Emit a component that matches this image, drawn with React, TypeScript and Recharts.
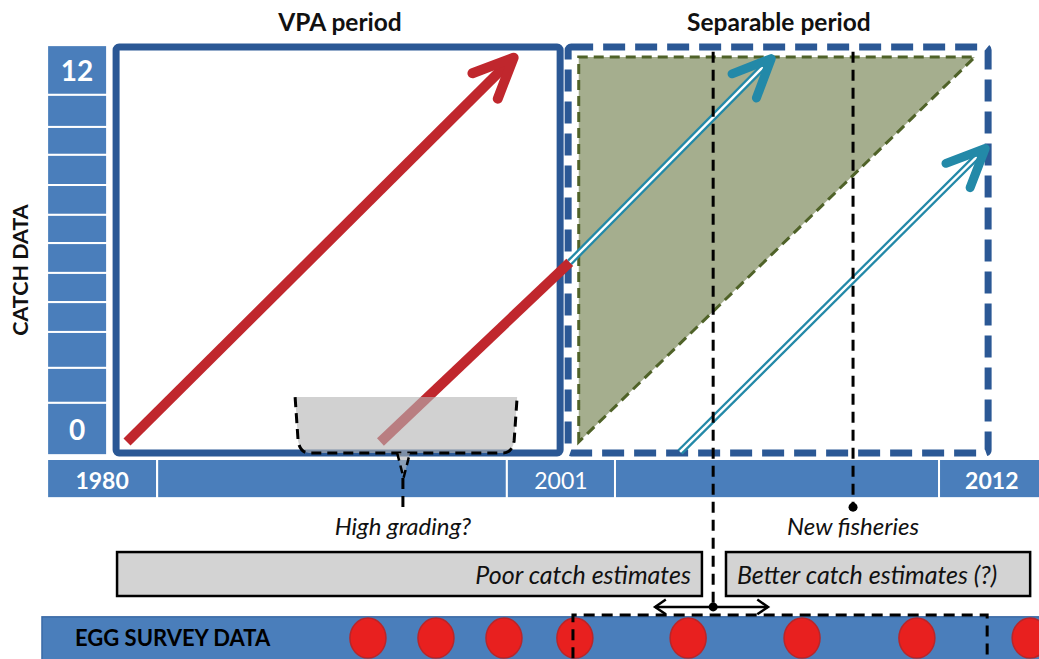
import React from 'react';
import { ComposedChart, XAxis, YAxis, ReferenceArea, ReferenceLine, ReferenceDot } from 'recharts';

// ---- chart units: t = time step (cohort ageing one step per unit), a = age ----
const periodTitles = [
  { label: 'VPA period', t: 6.64 },
  { label: 'Separable period', t: 20.32 },
];
const titleAge = 13.1;

const ageCellEdges = [12.37, 10.82, 9.82, 8.95, 8.01, 7.08, 6.2, 5.27, 4.36, 3.43, 2.31, 1.22, -0.41];
const ageCellLabels = ['12', '', '', '', '', '', '', '', '', '', '', '0'];
const ageColumn = [-2.49, -0.62];
const axisTitle = { label: 'CATCH DATA', t: -3.34, a: 5.36 };

const yearCellEdges = [-2.49, 0.94, 11.84, 15.21, 25.31, 28.6];
const yearCellLabels = ['1980', '', '2001', '', '2012'];
const yearBand = [-1.75, -0.53];

const periodBoxes = [
  { name: 'VPA', from: -0.34, to: 13.5 },
  { name: 'Separable', from: 13.75, to: 26.84 },
];
const periodAgeRange = [-0.34, 12.31];

const separableWindow = { from: 14.08, to: 26.43, ageFrom: 0, ageTo: 12 };

const redCohorts = [
  { t0: 0, a0: 0, t1: 12.05, a1: 11.98, head: true },
  { t0: 7.9, a0: 0, t1: 13.8, a1: 5.6, head: false },
];
const tealCohorts = [
  { t0: 13.8, a0: 5.6, t1: 20.08, a1: 11.95 },
  { t0: 17.24, a0: -0.31, t1: 26.75, a1: 9.15 },
];

const eventLines = [
  { t: 18.27, top: 12.16, bottom: -5.14 },
  { t: 22.63, top: 12.16, bottom: -2.03 },
];
const eventDots = [{ t: 22.63, a: -2.03 }];

const highGrading = { from: 5.24, to: 12.16, top: 1.4, bottom: -0.34 };
const highGradingPointer = { from: 8.42, to: 8.82, tip: -1.12, lineEnd: -2.1, t: 8.6 };

const notes = [
  { label: 'High grading?', t: 8.6, a: -2.6 },
  { label: 'New fisheries', t: 22.63, a: -2.6 },
];

const estimateBoxes = [
  { label: 'Poor catch estimates', from: -0.31, to: 17.92, align: 'end' },
  { label: 'Better catch estimates (?)', from: 18.67, to: 28.15, align: 'start' },
];
const estimateBand = [-4.8, -3.43];

const transition = { from: 16.46, to: 19.98, a: -5.14, mid: 18.27 };

const eggBand = { from: -2.65, to: 28.8, top: -5.45, bottom: -7.3 };
const eggTitle = { label: 'EGG SURVEY DATA', t: -1.62, a: -6.09 };
const eggSurveys = [7.51, 9.63, 11.75, 13.96, 17.49, 21.04, 24.62, 28.15];
const eggAge = -6.11;
const eggWindow = { from: 13.9, to: 26.81, top: -5.39, bottom: -7.3 };

// ---- styles ----
const FONT = 'Lato, "Open Sans", sans-serif';
const AXIS_BLUE = '#4a7ebb';
const BOX_BLUE = '#2b5895';
const RED = '#c0272d';
const TEAL = '#2389a8';
const GREEN_FILL = '#a5ae8e';
const GREEN_EDGE = '#4f6228';

function headPath(x: number, y: number, ang: number, len: number, spread: number) {
  const back = ang + Math.PI;
  const ax = x + len * Math.cos(back - spread);
  const ay = y + len * Math.sin(back - spread);
  const bx = x + len * Math.cos(back + spread);
  const by = y + len * Math.sin(back + spread);
  return `M${ax},${ay} L${x},${y} L${bx},${by}`;
}

const redArrow = (withHead: boolean) => (p: any) => {
  const { x1, y1, x2, y2 } = p;
  const ang = Math.atan2(y2 - y1, x2 - x1);
  const ex = withHead ? x2 - 6 * Math.cos(ang) : x2;
  const ey = withHead ? y2 - 6 * Math.sin(ang) : y2;
  return (
    <g>
      <line x1={x1} y1={y1} x2={ex} y2={ey} stroke={RED} strokeWidth={10} />
      {withHead && (
        <path d={headPath(x2, y2, ang, 44, 0.42)} stroke={RED} strokeWidth={10} fill="none" strokeLinecap="round" strokeLinejoin="round" />
      )}
    </g>
  );
};

const tealArrow = (p: any) => {
  const { x1, y1, x2, y2 } = p;
  const ang = Math.atan2(y2 - y1, x2 - x1);
  const ex = x2 - 8 * Math.cos(ang);
  const ey = y2 - 8 * Math.sin(ang);
  return (
    <g>
      <line x1={x1} y1={y1} x2={ex} y2={ey} stroke={TEAL} strokeWidth={7} />
      <line x1={x1} y1={y1} x2={ex - 4 * Math.cos(ang)} y2={ey - 4 * Math.sin(ang)} stroke="#fff" strokeWidth={2.4} />
      <path d={headPath(x2, y2, ang, 42, 0.42)} stroke={TEAL} strokeWidth={9} fill="none" strokeLinecap="round" strokeLinejoin="round" />
    </g>
  );
};

const doubleArrow = (p: any) => {
  const { x1, y1, x2, y2 } = p;
  const ang = Math.atan2(y2 - y1, x2 - x1);
  return (
    <g>
      <line x1={x1} y1={y1} x2={x2} y2={y2} stroke="#000" strokeWidth={2.5} />
      <path d={headPath(x2, y2, ang, 13, 0.6)} stroke="#000" strokeWidth={2.5} fill="none" />
      <path d={headPath(x1, y1, ang + Math.PI, 13, 0.6)} stroke="#000" strokeWidth={2.5} fill="none" />
    </g>
  );
};

const textDot = (label: string, opts: any) => (p: any) => (
  <text
    x={p.cx}
    y={p.cy}
    textAnchor={opts.anchor || 'middle'}
    dominantBaseline="central"
    fontFamily={FONT}
    fontSize={opts.size}
    fontWeight={opts.weight || 400}
    fontStyle={opts.italic ? 'italic' : 'normal'}
    fill={opts.fill || '#111'}
    transform={opts.rotate ? `rotate(-90 ${p.cx} ${p.cy})` : undefined}
  >
    {label}
  </text>
);

export default function App() {
  return (
    <div style={{ position: 'absolute', left: 0, top: 0, width: 1039, height: 659, background: '#fff' }}>
      <ComposedChart width={1039} height={659} margin={{ top: 57, right: 142, bottom: 217, left: 127 }}>
        <XAxis type="number" dataKey="t" domain={[0, 24]} hide allowDataOverflow />
        <YAxis type="number" dataKey="a" domain={[0, 12]} hide allowDataOverflow />

        {/* age column */}
        {ageCellLabels.map((lab, i) => (
          <ReferenceArea
            key={'age' + i}
            x1={ageColumn[0]}
            x2={ageColumn[1]}
            y1={ageCellEdges[i + 1]}
            y2={ageCellEdges[i]}
            ifOverflow="visible"
            zIndex={10}
            shape={(p: any) => (
              <g>
                <rect x={p.x} y={p.y} width={p.width} height={p.height} fill={AXIS_BLUE} stroke="#fff" strokeWidth={2} />
                {lab && (
                  <text x={p.x + p.width / 2} y={p.y + p.height / 2} textAnchor="middle" dominantBaseline="central" fill="#fff" fontFamily={FONT} fontWeight={700} fontSize={28}>
                    {lab}
                  </text>
                )}
              </g>
            )}
          />
        ))}

        {/* year bar */}
        {yearCellLabels.map((lab, i) => (
          <ReferenceArea
            key={'yr' + i}
            x1={yearCellEdges[i]}
            x2={yearCellEdges[i + 1]}
            y1={yearBand[0]}
            y2={yearBand[1]}
            ifOverflow="visible"
            zIndex={10}
            shape={(p: any) => (
              <g>
                <rect x={p.x} y={p.y} width={p.width} height={p.height} fill={AXIS_BLUE} stroke="#fff" strokeWidth={2} />
                {lab && (
                  <text x={p.x + p.width / 2} y={p.y + p.height / 2 + 1} textAnchor="middle" dominantBaseline="central" fill="#fff" fontFamily={FONT} fontWeight={lab === '2001' ? 400 : 700} fontSize={23}>
                    {lab}
                  </text>
                )}
              </g>
            )}
          />
        ))}

        {/* egg survey band */}
        <ReferenceArea
          x1={eggBand.from}
          x2={eggBand.to}
          y1={eggBand.bottom}
          y2={eggBand.top}
          ifOverflow="visible"
          zIndex={10}
          shape={(p: any) => <rect x={p.x} y={p.y} width={p.width} height={p.height} fill={AXIS_BLUE} stroke="#3a6aa6" strokeWidth={1.5} />}
        />

        {/* period boxes */}
        {periodBoxes.map((b, i) => (
          <ReferenceArea
            key={'box' + i}
            x1={b.from}
            x2={b.to}
            y1={periodAgeRange[0]}
            y2={periodAgeRange[1]}
            ifOverflow="visible"
            zIndex={11}
            shape={(p: any) => (
              <rect
                x={p.x}
                y={p.y}
                width={p.width}
                height={p.height}
                rx={3}
                fill="#fff"
                stroke={BOX_BLUE}
                strokeWidth={7}
                strokeDasharray={i === 0 ? undefined : '22 10'}
              />
            )}
          />
        ))}

        {/* separable estimation triangle */}
        <ReferenceArea
          x1={separableWindow.from}
          x2={separableWindow.to}
          y1={separableWindow.ageFrom}
          y2={separableWindow.ageTo}
          ifOverflow="visible"
          zIndex={20}
          shape={(p: any) => (
            <polygon
              points={`${p.x},${p.y + p.height} ${p.x},${p.y} ${p.x + p.width},${p.y}`}
              fill={GREEN_FILL}
              stroke={GREEN_EDGE}
              strokeWidth={3}
              strokeDasharray="10 6"
            />
          )}
        />

        {/* cohorts */}
        {redCohorts.map((c, i) => (
          <ReferenceLine
            key={'red' + i}
            segment={[{ x: c.t0, y: c.a0 }, { x: c.t1, y: c.a1 }]}
            ifOverflow="visible"
            zIndex={30}
            shape={redArrow(c.head)}
          />
        ))}
        {tealCohorts.map((c, i) => (
          <ReferenceLine
            key={'teal' + i}
            segment={[{ x: c.t0, y: c.a0 }, { x: c.t1, y: c.a1 }]}
            ifOverflow="visible"
            zIndex={30}
            shape={tealArrow}
          />
        ))}

        {/* event lines */}
        {eventLines.map((e, i) => (
          <ReferenceLine
            key={'ev' + i}
            segment={[{ x: e.t, y: e.top }, { x: e.t, y: e.bottom }]}
            ifOverflow="visible"
            zIndex={40}
            stroke="#000"
            strokeWidth={3}
            strokeDasharray="11 7"
          />
        ))}

        {/* high grading callout */}
        <ReferenceArea
          x1={highGrading.from}
          x2={highGrading.to}
          y1={highGrading.bottom}
          y2={highGrading.top}
          ifOverflow="visible"
          zIndex={45}
          shape={(p: any) => {
            const { x, y, width: w, height: h } = p;
            const edge = `M${x},${y} L${x + 3},${y + h - 12} Q${x + 5},${y + h} ${x + 14},${y + h} L${x + w - 14},${y + h} Q${x + w - 5},${y + h} ${x + w - 3},${y + h - 12} L${x + w},${y}`;
            return (
              <g>
                <path d={edge + ' Z'} fill="#b4b4b4" fillOpacity={0.62} stroke="none" />
                <path d={edge} fill="none" stroke="#000" strokeWidth={3} strokeDasharray="10 6" />
              </g>
            );
          }}
        />
        <ReferenceArea
          x1={highGradingPointer.from}
          x2={highGradingPointer.to}
          y1={highGradingPointer.tip}
          y2={highGrading.bottom}
          ifOverflow="visible"
          zIndex={45}
          shape={(p: any) => {
            const { x, y, width: w, height: h } = p;
            return (
              <path
                d={`M${x},${y} L${x + w / 2},${y + h} L${x + w},${y}`}
                fill="#b4b4b4"
                fillOpacity={0.6}
                stroke="#000"
                strokeWidth={2.5}
                strokeDasharray="8 5"
              />
            );
          }}
        />
        <ReferenceLine
          segment={[{ x: highGradingPointer.t, y: highGradingPointer.tip }, { x: highGradingPointer.t, y: highGradingPointer.lineEnd }]}
          ifOverflow="visible"
          zIndex={45}
          stroke="#000"
          strokeWidth={3}
          strokeDasharray="11 7"
        />

        {/* estimate boxes */}
        {estimateBoxes.map((b, i) => (
          <ReferenceArea
            key={'est' + i}
            x1={b.from}
            x2={b.to}
            y1={estimateBand[0]}
            y2={estimateBand[1]}
            ifOverflow="visible"
            zIndex={45}
            shape={(p: any) => (
              <g>
                <rect x={p.x} y={p.y} width={p.width} height={p.height} fill="#d3d3d3" stroke="#000" strokeWidth={2.5} />
                <text
                  x={b.align === 'end' ? p.x + p.width - 11 : p.x + 11}
                  y={p.y + p.height / 2}
                  textAnchor={b.align}
                  dominantBaseline="central"
                  fontFamily={FONT}
                  fontStyle="italic"
                  fontSize={25}
                  fill="#111"
                >
                  {b.label}
                </text>
              </g>
            )}
          />
        ))}

        {/* egg surveys */}
        {eggSurveys.map((t, i) => (
          <ReferenceDot
            key={'egg' + i}
            x={t}
            y={eggAge}
            ifOverflow="visible"
            zIndex={50}
            shape={(p: any) => <ellipse cx={p.cx} cy={p.cy} rx={18} ry={20} fill="#e8201f" stroke="#b8262a" strokeWidth={1.5} />}
          />
        ))}
        <ReferenceArea
          x1={eggWindow.from}
          x2={eggWindow.to}
          y1={eggWindow.bottom}
          y2={eggWindow.top}
          ifOverflow="visible"
          zIndex={55}
          shape={(p: any) => (
            <path
              d={`M${p.x},${p.y + p.height} L${p.x},${p.y} L${p.x + p.width},${p.y} L${p.x + p.width},${p.y + p.height}`}
              fill="none"
              stroke="#000"
              strokeWidth={3}
              strokeDasharray="11 7"
            />
          )}
        />

        {/* transition arrow */}
        <ReferenceLine
          segment={[{ x: transition.from, y: transition.a }, { x: transition.to, y: transition.a }]}
          ifOverflow="visible"
          zIndex={56}
          shape={doubleArrow}
        />
        <ReferenceDot x={transition.mid} y={transition.a} r={4.5} fill="#000" stroke="none" ifOverflow="visible" zIndex={57} />
        {eventDots.map((d, i) => (
          <ReferenceDot key={'ed' + i} x={d.t} y={d.a} r={4.5} fill="#000" stroke="none" ifOverflow="visible" zIndex={57} />
        ))}

        {/* texts */}
        {periodTitles.map((p, i) => (
          <ReferenceDot key={'title' + i} x={p.t} y={titleAge} ifOverflow="visible" zIndex={60} shape={textDot(p.label, { size: 24.5, weight: 700 })} />
        ))}
        <ReferenceDot x={axisTitle.t} y={axisTitle.a} ifOverflow="visible" zIndex={60} shape={textDot(axisTitle.label, { size: 21.5, weight: 700, rotate: true })} />
        {notes.map((n, i) => (
          <ReferenceDot key={'note' + i} x={n.t} y={n.a} ifOverflow="visible" zIndex={60} shape={textDot(n.label, { size: 24, italic: true })} />
        ))}
        <ReferenceDot x={eggTitle.t} y={eggTitle.a} ifOverflow="visible" zIndex={60} shape={textDot(eggTitle.label, { size: 22, weight: 700, anchor: 'start', fill: '#000' })} />
      </ComposedChart>
    </div>
  );
}
